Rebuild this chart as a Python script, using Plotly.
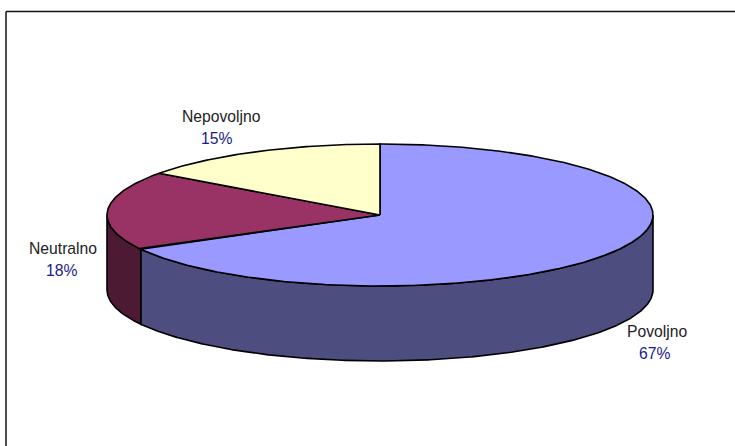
#3d style pie, plotly's pie has no depth so build the slices as filled polygons
import numpy as np
import plotly.graph_objects as go

categories = ['Povoljno', 'Neutralno', 'Nepovoljno']
values = [67, 18, 15]
top_colors = ['#9999FF', '#993366', '#FFFFCC']
wall_colors = ['#4D4D80', '#4D1A33', '#80806A']

#where the pie sits on the page, in pixels
cx, cy = 380, 215
rx, ry = 273, 71
depth = 75
label_pos = {'Povoljno': (657, 331), 'Neutralno': (63, 248), 'Nepovoljno': (221, 116)}
pct_pos = {'Povoljno': (654, 353), 'Neutralno': (61, 270), 'Nepovoljno': (216, 138)}


def rim(a_start, a_end, drop=0):
    #angle is clockwise from the top of the pie, in degrees
    a = np.radians(np.linspace(a_start, a_end, max(int(abs(a_end - a_start)) * 2, 2)))
    return cx + rx * np.sin(a), cy - ry * np.cos(a) + drop


fig = go.Figure()

edges = np.cumsum([0] + values) * 360 / sum(values)

#walls first, only the front half of the rim is visible
for i in range(len(values)):
    a0, a1 = max(edges[i], 90), min(edges[i + 1], 270)
    if a1 <= a0:
        continue
    x_top, y_top = rim(a0, a1)
    x_bot, y_bot = rim(a1, a0, depth)
    fig.add_trace(go.Scatter(x=np.concatenate([x_top, x_bot, x_top[:1]]), y=np.concatenate([y_top, y_bot, y_top[:1]]),
                             mode='lines', fill='toself', fillcolor=wall_colors[i],
                             line=dict(color='black', width=1.6), hoverinfo='skip', showlegend=False))

#top of the pie
for i in range(len(values)):
    x_top, y_top = rim(edges[i], edges[i + 1])
    fig.add_trace(go.Scatter(x=np.concatenate([[cx], x_top, [cx]]), y=np.concatenate([[cy], y_top, [cy]]),
                             mode='lines', fill='toself', fillcolor=top_colors[i],
                             line=dict(color='black', width=1.6), name=categories[i], showlegend=False))

#frame only shows on the top and left, the rest is cropped in the original
fig.add_shape(type='line', x0=6, x1=735, y0=11.5, y1=11.5, line=dict(color='#111111', width=1.5))
fig.add_shape(type='line', x0=6, x1=6, y0=11.5, y1=446, line=dict(color='#111111', width=1.5))

for name, v in zip(categories, values):
    fig.add_annotation(x=label_pos[name][0], y=label_pos[name][1], text=name, showarrow=False,
                       font=dict(color='#222222', size=15.7, family='Liberation Sans'))
    fig.add_annotation(x=pct_pos[name][0], y=pct_pos[name][1], text=f'{v}%', showarrow=False,
                       font=dict(color='#1A1A8C', size=15.7, family='Liberation Sans'))

fig.update_xaxes(range=[0, 735], visible=False, fixedrange=True)
fig.update_yaxes(range=[446, 0], visible=False, fixedrange=True)
fig.update_layout(width=735, height=446, margin=dict(t=0, l=0, r=0, b=0),
                  paper_bgcolor='white', plot_bgcolor='white', showlegend=False)

#default page has an 8px body margin, drop it so the figure fills the window
fig.write_html("out.html", config=dict(displayModeBar=False),
               post_script="document.body.style.margin='0';document.body.style.overflow='hidden';")
